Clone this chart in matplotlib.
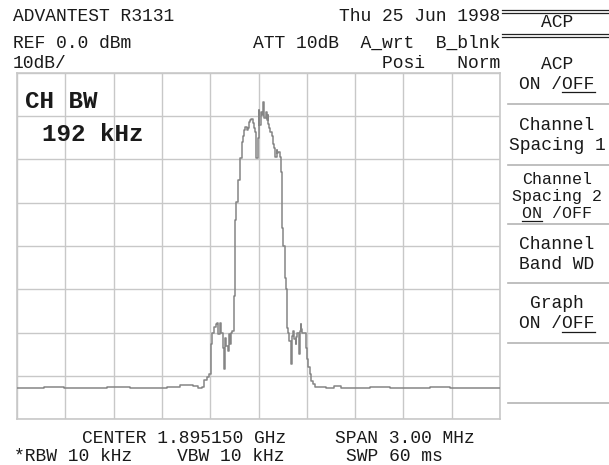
import matplotlib
matplotlib.use("Agg")
import matplotlib.pyplot as plt

# trace: offset from center (kHz) and level (dBm)
offset_khz = [
    -1500, -1394, -1270, -1149, -1025, -860, -736, -612, -519, -457, -425, -394,
    -363, -345, -326, -314, -301, -295, -289, -283, -270, -258, -252, -245, -239,
    -233, -227, -220, -214, -208, -202, -196, -189, -183, -177, -171, -165, -158,
    -152, -146, -140, -134, -121, -115, -109, -102, -96, -90, -84, -78, -71, -65,
    -59, -53, -47, -40, -34, -28, -22, -16, -9, -3, 3, 9, 16, 22, 28, 34, 40, 47,
    53, 59, 65, 71, 78, 84, 90, 96, 102, 109, 115, 121, 127, 134, 140, 146, 152,
    158, 165, 171, 177, 183, 189, 196, 202, 208, 214, 220, 227, 233, 239, 245, 252,
    258, 264, 270, 276, 289, 295, 301, 307, 314, 320, 332, 345, 363, 394, 444, 488,
    537, 630, 755, 879, 1003, 1127, 1252, 1376, 1500,
]
level_dbm = [
    -72.8, -72.8, -72.6, -72.8, -72.8, -72.6, -72.8, -72.8, -72.6, -72.1, -72.1, -72.3,
    -72.8, -72.6, -71.0, -70.3, -69.6, -65.4, -62.6, -60.1, -58.7, -58.0, -57.7, -60.3, -57.7,
    -58.4, -60.1, -63.5, -68.4, -64.2, -61.2, -63.1, -64.2, -60.3, -61.9, -62.6, -60.1, -59.6,
    -51.5, -41.0, -34.1, -29.9, -24.8, -23.0, -19.7, -16.0, -14.6, -13.9, -13.2, -12.5, -13.2, -12.8,
    -11.8, -11.4, -10.9, -10.7, -11.6, -12.1, -12.8, -13.7, -19.7, -15.1, -8.6, -12.1, -9.0, -9.7, -8.1, -6.7, -10.4, -9.0,
    -10.9, -9.7, -11.8, -12.8, -13.7, -14.6, -15.1, -16.5, -17.4, -19.5, -17.9, -18.6, -18.3, -19.5, -23.0, -29.9, -35.9,
    -39.9, -47.5, -49.9, -56.1, -58.9, -60.1, -61.9, -67.2, -61.9, -60.8, -59.6, -61.4, -62.6, -61.0, -60.1, -64.9,
    -59.6, -58.0, -59.1, -60.1, -60.1, -60.1, -63.5, -66.1, -67.9, -69.6, -71.2, -71.9, -72.6, -72.6, -72.8, -72.3,
    -72.8, -72.8, -72.6, -72.8, -72.8, -72.6, -72.8, -72.8, -72.8,
]

ref_level = 0.0
db_per_div = 10
n_ydiv = 8
span_khz = 3000
n_xdiv = 10

header_lines = [
    ("ADVANTEST R3131", 13, 20.7, "left"),
    ("Thu 25 Jun 1998", 500, 20.7, "right"),
    ("REF 0.0 dBm", 13, 48, "left"),
    ("ATT 10dB  A_wrt  B_blnk", 500, 48, "right"),
    ("10dB/", 13, 68.5, "left"),
    ("Posi   Norm", 500, 68.5, "right"),
]
footer_lines = [
    ("CENTER 1.895150 GHz", 82, 443),
    ("SPAN 3.00 MHz", 335, 443),
    ("*RBW 10 kHz", 14, 461),
    ("VBW 10 kHz", 177, 461),
    ("SWP 60 ms", 346, 461),
]
# softkey menu: (lines, separator below), underline = (line index, first char, n chars)
softkeys = [
    (["ACP", "ON /OFF"], 104, (1, 4, 3)),
    (["Channel", "Spacing 1"], 165, None),
    (["Channel", "Spacing 2", "ON /OFF"], 224, (2, 0, 2)),
    (["Channel", "Band WD"], 283, None),
    (["Graph", "ON /OFF"], 343, (1, 4, 3)),
    ([], 403, None),
]

W, H = 609, 465
fig = plt.figure(figsize=(W / 100, H / 100), dpi=100)
fig.patch.set_facecolor("white")

gl, gr, gt, gb = 17, 500, 73, 419
ax = fig.add_axes([gl / W, 1 - gb / H, (gr - gl) / W, (gb - gt) / H])
ax.set_xlim(-span_khz / 2, span_khz / 2)
ax.set_ylim(ref_level - n_ydiv * db_per_div, ref_level)
ax.set_xticks([-span_khz / 2 + i * span_khz / n_xdiv for i in range(n_xdiv + 1)])
ax.set_yticks([ref_level - i * db_per_div for i in range(n_ydiv + 1)])
ax.tick_params(length=0, labelbottom=False, labelleft=False)
ax.grid(True, color="#c8c8c8", lw=1.0)
for s in ax.spines.values():
    s.set_color("#c8c8c8")
    s.set_linewidth(1.2)
ax.plot(offset_khz, level_dbm, color="#858585", lw=1.1, drawstyle="steps-mid", zorder=3)

# overlay in pixel units for the screen annotations
ov = fig.add_axes([0, 0, 1, 1], facecolor="none")
ov.set_xlim(0, W)
ov.set_ylim(H, 0)
ov.axis("off")

mono = "Liberation Mono"
fs = 13
adv = 0.6 * fs * 100 / 72  # px per character
tc = "#1a1a1a"

for txt, x, y, ha in header_lines:
    ov.text(x, y, txt, family=mono, fontsize=fs, ha=ha, va="baseline", color=tc)
for txt, x, y in footer_lines:
    ov.text(x, y, txt, family=mono, fontsize=fs, ha="left", va="baseline", color=tc)

ov.text(25, 108, "CH BW", family=mono, fontsize=17.5, weight="bold", va="baseline", color=tc)
ov.text(42, 141, "192 kHz", family=mono, fontsize=17.5, weight="bold", va="baseline", color=tc)

# menu title with double rules
for y in (10, 13, 34.5, 37.5):
    ov.plot([502, W], [y, y], color="#222222", lw=0.9)
ov.text(557, 27, "ACP", family=mono, fontsize=fs, ha="center", va="baseline", color=tc)

px = 557
top = 44
for lines, sep, ul in softkeys:
    n = len(lines)
    step = 17 if n == 3 else 20
    size = 12 if n == 3 else fs
    mid = (top + sep) / 2 + (1 if n == 3 else 0)
    for i, ln in enumerate(lines):
        cy = mid + (i - (n - 1) / 2) * step
        ov.text(px, cy + 5, ln, family=mono, fontsize=size, ha="center", va="baseline", color=tc)
        if ul is not None and ul[0] == i:
            a = 0.6 * size * 100 / 72
            x0 = px - len(ln) * a / 2 + ul[1] * a
            ov.plot([x0, x0 + ul[2] * a], [cy + 8.5, cy + 8.5], color=tc, lw=0.9)
    ov.plot([508, W], [sep, sep], color="#b4b4b4", lw=1.2)
    top = sep

fig.savefig("out.png", dpi=100)
